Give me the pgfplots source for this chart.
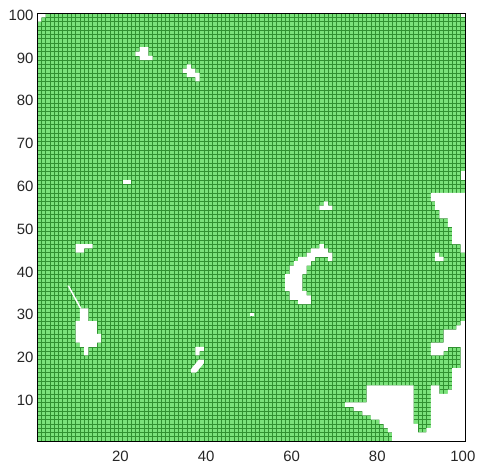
\documentclass[border=0pt]{standalone}
\usepackage{fontspec}
\setmainfont{Liberation Sans}
\usepackage{pgfplots}
\pgfplotsset{compat=1.18}
\definecolor{cellgreen}{RGB}{122,226,122}
\definecolor{celledge}{RGB}{48,145,48}
\definecolor{labelgray}{RGB}{38,38,38}
% grid drawn above the green cells but below the empty (white) cells
\pgfplotsset{
  layers/gridmap/.define layer set={axis ticks,axis background,axis grid,pre main,main,axis lines,axis tick labels,axis descriptions,axis foreground}{/pgfplots/layers/standard},
}
\begin{document}
\begin{tikzpicture}
\begin{axis}[
    set layers=gridmap,
    scale only axis, width=428bp, height=428bp,
    xmin=0.5, xmax=100.5, ymin=0.5, ymax=100.5,
    xtick={20,40,60,80,100}, ytick={10,20,...,100},
    minor xtick={0.5,1.5,...,100.5}, minor ytick={0.5,1.5,...,100.5},
    xminorgrids, yminorgrids,
    minor grid style={draw=celledge, line width=0.5bp},
    minor tick length=0pt, major tick length=4bp,
    tick align=inside,
    axis line style={black, line width=0.6bp},
    /pgf/number format/assume math mode=true,
    ticklabel style={font=\fontsize{15}{17}\selectfont, text=labelgray},
    xticklabel style={yshift=-7bp},
]
% occupied cells
\addplot[fill=cellgreen, draw=none, on layer=axis background] coordinates {
  (0.5,0.5) (100.5,0.5) (100.5,100.5) (0.5,100.5)};

% empty cells
\addplot[fill=white, draw=none] coordinates {
  (83.5,0.5) (100.5,0.5) (100.5,28.5) (99.5,28.5) (99.5,27.5) (98.5,27.5)
  (98.5,26.5) (95.5,26.5) (95.5,23.5) (92.5,23.5) (92.5,20.5) (95.5,20.5)
  (95.5,21.5) (96.5,21.5) (96.5,22.5) (99.5,22.5) (99.5,17.5) (97.5,17.5)
  (97.5,12.5) (96.5,12.5) (96.5,11.5) (94.5,11.5) (94.5,13.5) (92.5,13.5)
  (92.5,3.5) (91.5,3.5) (91.5,2.5) (89.5,2.5) (89.5,4.5) (88.5,4.5)
  (88.5,13.5) (77.5,13.5) (77.5,9.5) (72.5,9.5) (72.5,8.5) (74.5,8.5)
  (74.5,7.5) (76.5,7.5) (76.5,6.5) (78.5,6.5) (78.5,5.5) (80.5,5.5)
  (80.5,4.5) (81.5,4.5) (81.5,3.5) (82.5,3.5) (82.5,2.5) (83.5,2.5)};
\addplot[fill=white, draw=none] coordinates {
  (100.5,58.5) (92.5,58.5) (92.5,56.5) (93.5,56.5) (93.5,54.5) (94.5,54.5)
  (94.5,52.5) (96.5,52.5) (96.5,50.5) (97.5,50.5) (97.5,46.5) (99.5,46.5)
  (99.5,44.5) (100.5,44.5)};
\addplot[fill=white, draw=none] coordinates {
  (93.5,42.5) (95.5,42.5) (95.5,43.5) (94.5,43.5) (94.5,44.5) (93.5,44.5)};
\addplot[fill=white, draw=none] coordinates {
  (99.5,61.5) (100.5,61.5) (100.5,63.5) (99.5,63.5)};
\addplot[fill=white, draw=none] coordinates {
  (0.5,100.5) (2.5,100.5) (2.5,99.5) (1.5,99.5) (1.5,98.5) (0.5,98.5)};
\addplot[fill=white, draw=none] coordinates {
  (99.5,99.5) (100.5,99.5) (100.5,100.5) (99.5,100.5)};
\addplot[fill=white, draw=none] coordinates {
  (24.5,92.5) (26.5,92.5) (26.5,90.5) (27.5,90.5) (27.5,89.5) (24.5,89.5)
  (24.5,90.5) (23.5,90.5) (23.5,91.5) (24.5,91.5)};
\addplot[fill=white, draw=none] coordinates {
  (35.5,88.5) (36.5,88.5) (36.5,87.5) (37.5,87.5) (37.5,86.5) (38.5,86.5)
  (38.5,84.5) (37.5,84.5) (37.5,85.5) (35.5,85.5) (35.5,86.5) (34.5,86.5)
  (34.5,87.5) (35.5,87.5)};
\addplot[fill=white, draw=none] coordinates {
  (20.5,60.5) (22.5,60.5) (22.5,61.5) (20.5,61.5)};
\addplot[fill=white, draw=none] coordinates {
  (66.5,54.5) (69.5,54.5) (69.5,55.5) (68.5,55.5) (68.5,56.5) (67.5,56.5)
  (67.5,55.5) (66.5,55.5)};
\addplot[fill=white, draw=none] coordinates {
  (9.5,44.5) (11.5,44.5) (11.5,45.5) (13.5,45.5) (13.5,46.5) (9.5,46.5)};
\addplot[fill=white, draw=none] coordinates {
  (10.5,31.5) (12.5,31.5) (12.5,28.5) (14.5,28.5) (14.5,25.5) (15.5,25.5)
  (15.5,23.5) (14.5,23.5) (14.5,22.5) (12.5,22.5) (12.5,20.5) (11.5,20.5)
  (11.5,22.5) (10.5,22.5) (10.5,23.5) (9.5,23.5) (9.5,28.5) (10.5,28.5)};
\addplot[fill=white, draw=none] coordinates {
  (10.5,31.5) (10.9,31.5) (8.0,36.8) (7.6,36.8)};
\addplot[fill=white, draw=none] coordinates {
  (66.5,46.5) (67.5,46.5) (67.5,45.5) (68.5,45.5) (68.5,44.5) (69.5,44.5)
  (69.5,42.5) (68.5,42.5) (68.5,43.5) (65.5,43.5) (65.5,42.5) (64.5,42.5)
  (64.5,41.5) (63.5,41.5) (63.5,39.5) (62.5,39.5) (62.5,35.5) (63.5,35.5)
  (63.5,34.5) (64.5,34.5) (64.5,32.5) (61.5,32.5) (61.5,33.5) (59.5,33.5)
  (59.5,35.5) (58.5,35.5) (58.5,39.5) (59.5,39.5) (59.5,41.5) (60.5,41.5)
  (60.5,42.5) (61.5,42.5) (61.5,43.5) (63.5,43.5) (63.5,44.5) (64.5,44.5)
  (64.5,45.5) (66.5,45.5)};
\addplot[fill=white, draw=none] coordinates {
  (37.5,22.5) (39.5,22.5) (39.5,21.5) (38.5,21.5) (38.5,20.5) (37.5,20.5)};
\addplot[fill=white, draw=none] coordinates {
  (38.3,19.5) (39.5,19.5) (39.5,18.7) (37.7,16.5) (36.5,16.5) (36.5,17.3)};
\addplot[fill=white, draw=none] coordinates {
  (50.3,29.7) (51.1,29.7) (51.1,30.5) (50.3,30.5)};
\end{axis}
\path ([shift={(-37bp,-30bp)}]current axis.south west)
  rectangle ([shift={(15bp,13bp)}]current axis.north east);
\end{tikzpicture}
\end{document}
